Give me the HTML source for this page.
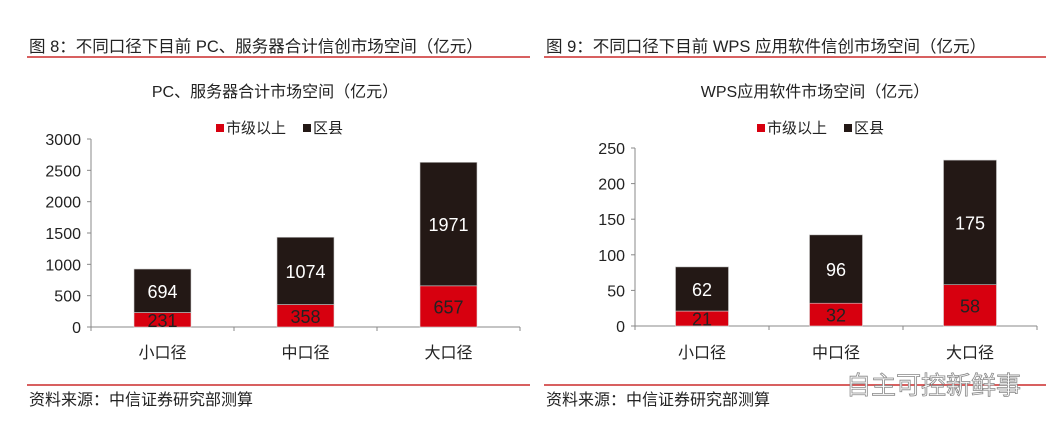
<!DOCTYPE html>
<html><head><meta charset="utf-8"><style>
body{margin:0;background:#fff;width:1061px;height:433px;overflow:hidden;font-family:"Liberation Sans","Noto Sans CJK SC",sans-serif;}
svg text{font-family:"Liberation Sans","Noto Sans CJK SC",sans-serif;}
</style></head><body>
<svg id="s" width="1061" height="433" xmlns="http://www.w3.org/2000/svg">
<text x="29" y="52" font-size="16.5" fill="#222">图 8：不同口径下目前 PC、服务器合计信创市场空间（亿元）</text>
<line x1="27" y1="57" x2="530" y2="57" stroke="#c00000" stroke-width="1.3"/>
<text x="546" y="52" font-size="16.5" fill="#222">图 9：不同口径下目前 WPS 应用软件信创市场空间（亿元）</text>
<line x1="544" y1="57" x2="1046" y2="57" stroke="#c00000" stroke-width="1.3"/>
<line x1="27" y1="385" x2="530" y2="385" stroke="#c00000" stroke-width="1.3"/>
<line x1="544" y1="385" x2="1046" y2="385" stroke="#c00000" stroke-width="1.3"/>
<text x="29" y="405" font-size="16" fill="#222">资料来源：中信证券研究部测算</text>
<text x="546" y="405" font-size="16" fill="#222">资料来源：中信证券研究部测算</text>
<text x="846" y="394" font-size="25" fill="#fff" stroke="#888" stroke-width="0.8">自主可控新鲜事</text>
<g id="c1"></g>
<g id="c2"></g>
</svg>
<script>
const categories=["小口径","中口径","大口径"];
const pcCity=[231,358,657];
const pcCounty=[694,1074,1971];
const pcTicks=[0,500,1000,1500,2000,2500,3000];
const wpsCity=[21,32,58];
const wpsCounty=[62,96,175];
const wpsTicks=[0,50,100,150,200,250];
const NS="http://www.w3.org/2000/svg";
function mk(p,t,a){const e=document.createElementNS(NS,t);for(const k in a)e.setAttribute(k,a[k]);p.appendChild(e);return e;}
function draw(g,cfg){
 const {x0,x1,y0,y1,max,ticks,city,county,barW,title,tx,legX}=cfg;
 const band=(x1-x0)/categories.length;
 const ys=v=>y0-(v/max)*(y0-y1);
 let t=mk(g,'text',{x:tx,y:97,'font-size':16,fill:'#222','text-anchor':'middle'});t.textContent=title;
 
 
 let r=mk(g,'rect',{x:legX,y:124,width:8,height:8,fill:'#d7000f'});
 
 
 t=mk(g,'text',{x:legX+10,y:133,'font-size':15,fill:'#222'});t.textContent='市级以上';
 
 
 r=mk(g,'rect',{x:legX+87,y:124,width:8,height:8,fill:'#231815'});
 
 
 t=mk(g,'text',{x:legX+97,y:133,'font-size':15,fill:'#222'});t.textContent='区县';
 
 
 let l=mk(g,'line',{x1:x0,y1:y0,x2:x0,y2:y1,stroke:'#888'});
 
 
 l=mk(g,'line',{x1:x0,y1:y0,x2:x1,y2:y0,stroke:'#888'});
 
 
 ticks.forEach(v=>{const y=ys(v);
  mk(g,'line',{x1:x0-4,y1:y,x2:x0,y2:y,stroke:'#888'});
  const tt=mk(g,'text',{x:x0-10,y:y+6,'font-size':16,fill:'#222','text-anchor':'end'});tt.textContent=v;
  
  });
 for(let i=0;i<=categories.length;i++){mk(g,'line',{x1:x0+band*i,y1:y0,x2:x0+band*i,y2:y0+4,stroke:'#888'});}
 categories.forEach((c,i)=>{
  const cx=x0+band*(i+0.5);
  const yc=ys(city[i]),yt=ys(city[i]+county[i]);
  let b=mk(g,'rect',{x:cx-barW/2,y:yc,width:barW,height:y0-yc,fill:'#d7000f',stroke:'#ddd','stroke-width':0.6});
  
  
  b=mk(g,'rect',{x:cx-barW/2,y:yt,width:barW,height:yc-yt,fill:'#231815',stroke:'#ccc','stroke-width':0.6});
  
  
  let v=mk(g,'text',{x:cx,y:(yc+y0)/2+7,'font-size':18,fill:'#222','text-anchor':'middle'});v.textContent=city[i];
  
  
  v=mk(g,'text',{x:cx,y:(yc+yt)/2+7,'font-size':18,fill:'#fff','text-anchor':'middle'});v.textContent=county[i];
  
  
  v=mk(g,'text',{x:cx,y:358,'font-size':16,fill:'#222','text-anchor':'middle'});v.textContent=c;
  
  
 });
}
draw(document.getElementById('c1'),{x0:91,x1:520,y0:327,y1:139,max:3000,ticks:pcTicks,city:pcCity,county:pcCounty,barW:57,title:'PC、服务器合计市场空间（亿元）',tx:275,legX:216});
draw(document.getElementById('c2'),{x0:635,x1:1037,y0:326,y1:148,max:250,ticks:wpsTicks,city:wpsCity,county:wpsCounty,barW:53,title:'WPS应用软件市场空间（亿元）',tx:815,legX:757});
</script>
</body></html>
